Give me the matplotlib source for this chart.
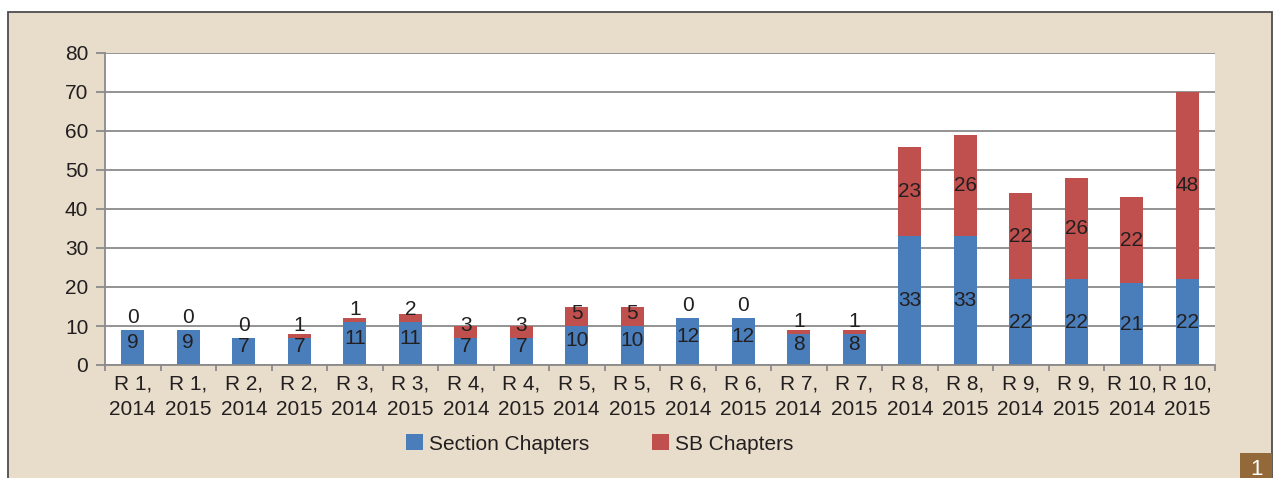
import matplotlib.pyplot as plt
import matplotlib.patches as mpatches
import numpy as np

plt.rcParams['font.family'] = ['Liberation Sans', 'DejaVu Sans']

categories = ['R 1,\n2014', 'R 1,\n2015', 'R 2,\n2014', 'R 2,\n2015', 'R 3,\n2014',
              'R 3,\n2015', 'R 4,\n2014', 'R 4,\n2015', 'R 5,\n2014', 'R 5,\n2015',
              'R 6,\n2014', 'R 6,\n2015', 'R 7,\n2014', 'R 7,\n2015', 'R 8,\n2014',
              'R 8,\n2015', 'R 9,\n2014', 'R 9,\n2015', 'R 10,\n2014', 'R 10,\n2015']
section = [9, 9, 7, 7, 11, 11, 7, 7, 10, 10, 12, 12, 8, 8, 33, 33, 22, 22, 21, 22]
sb = [0, 0, 0, 1, 1, 2, 3, 3, 5, 5, 0, 0, 1, 1, 23, 26, 22, 26, 22, 48]

blue = '#4A7EBB'
red = '#C0504D'
beige = '#E8DDCB'
txt = '#231F20'
grid_c = '#8A8A8A'
fs = 15

fig = plt.figure(figsize=(12.76, 4.78), dpi=100, facecolor='white')
W, H = 1276, 478

# beige panel with frame
fig.patches.append(mpatches.Rectangle((8 / W, -0.01), (1272 - 8) / W, (H - 12) / H + 0.01,
                                      transform=fig.transFigure, facecolor=beige,
                                      edgecolor='#4D4D4D', linewidth=1.3, zorder=-5))
# badge
fig.patches.append(mpatches.Rectangle((1240 / W, 0), 32 / W, 25 / H, transform=fig.transFigure,
                                      facecolor='#94693A', edgecolor='none', zorder=-4))
fig.text(1256 / W, 3 / H, '1', color='white', fontsize=16,
         ha='center', va='baseline')

ax = fig.add_axes([105 / W, 1 - 365 / H, (1215 - 105) / W, (365 - 53) / H])
ax.set_facecolor('white')

x = np.arange(len(categories))
sec = np.array(section)
sbv = np.array(sb)
bw = 0.42
ax.bar(x, sec, width=bw, color=blue, zorder=2, label='Section Chapters')
ax.bar(x, sbv, width=bw, bottom=sec, color=red, zorder=2, label='SB Chapters')

for i in range(len(x)):
    yb = sec[i] / 2 + (1.3 if sec[i] < 15 else 0)
    ax.text(x[i], yb, str(sec[i]), ha='center', va='center', fontsize=fs, color=txt, zorder=3)
    yr = sec[i] + max(sbv[i] / 2, 3.2)
    ax.text(x[i], yr, str(sbv[i]), ha='center', va='center', fontsize=fs, color=txt, zorder=3)

ax.set_xlim(-0.5, len(x) - 0.5)
ax.set_ylim(0, 80)
ax.set_yticks(range(0, 81, 10))
ax.yaxis.grid(True, color=grid_c, linewidth=1.3, zorder=0)
ax.set_axisbelow(True)
ax.tick_params(axis='y', length=6.5, width=1.3, color=grid_c, labelsize=fs, labelcolor=txt, pad=5.5)

ax.set_xticks(x)
ax.set_xticklabels(categories, linespacing=1.45)
ax.set_xticks(np.arange(-0.5, len(x), 1), minor=True)
ax.tick_params(axis='x', which='major', length=0, labelsize=fs, labelcolor=txt, pad=6.5)
ax.tick_params(axis='x', which='minor', length=4, width=1.3, color=grid_c)

for s in ['top', 'right']:
    ax.spines[s].set_visible(False)
for s in ['left', 'bottom']:
    ax.spines[s].set_color(grid_c)
    ax.spines[s].set_linewidth(1.3)

fig.legend(loc='center', bbox_to_anchor=(0.470, 0.071), ncol=2, frameon=False,
           fontsize=fs, handlelength=0.8, handleheight=0.8, handletextpad=0.3,
           columnspacing=3.0, labelcolor=txt)

fig.savefig('out.png', dpi=100, facecolor=fig.get_facecolor())
